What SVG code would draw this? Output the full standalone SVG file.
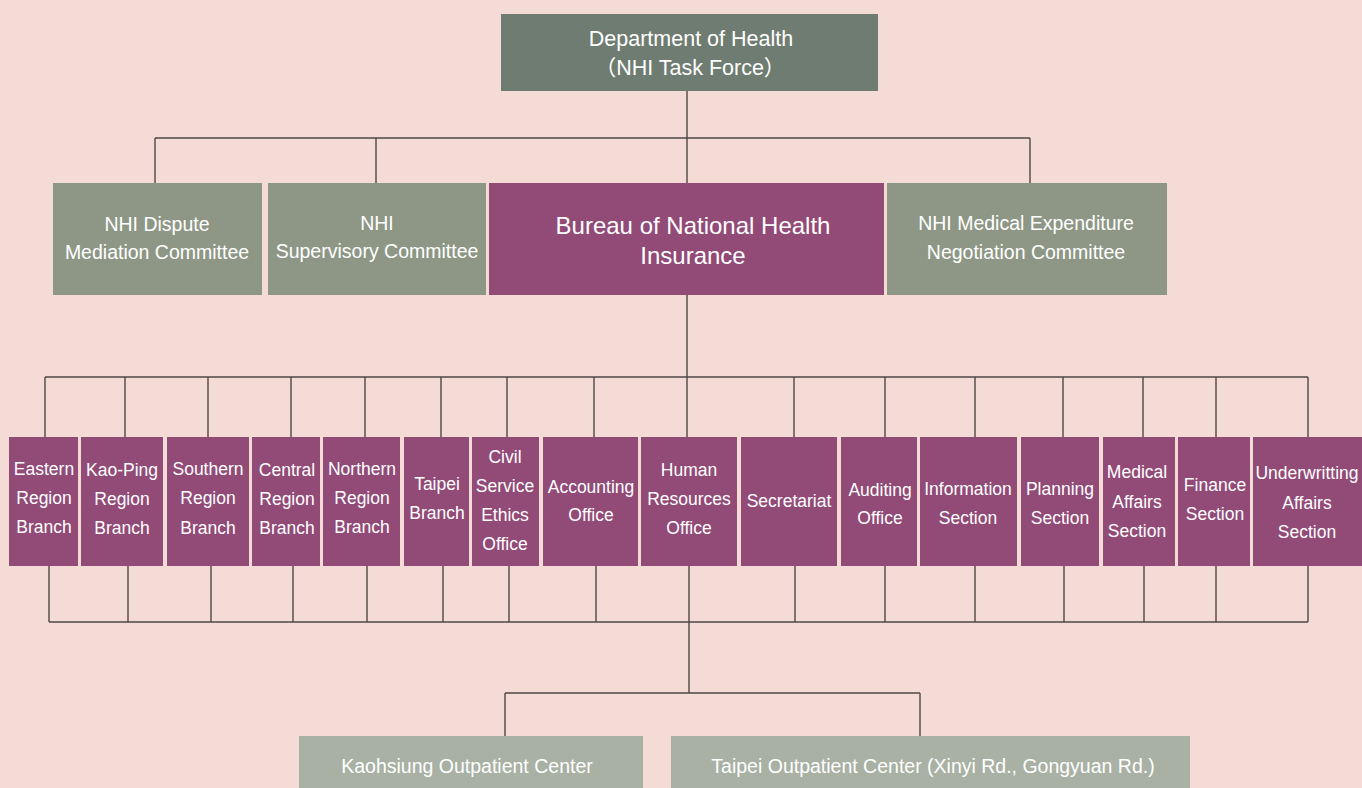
<svg xmlns="http://www.w3.org/2000/svg" width="1362" height="788" viewBox="0 0 1362 788">
<style>
text{font-family:"Liberation Sans",Arial,"Noto Sans CJK TC",sans-serif;fill:#ffffff;text-anchor:middle}
.top{fill:#6f7c71}
.com{fill:#8e9786}
.pur{fill:#924a77}
.out{fill:#a8b1a4}
.t1{font-size:21.5px}
.t2{font-size:19.5px}
.t3{font-size:24px}
.t4{font-size:17.5px}
.t5{font-size:19.5px}
#connectors path{fill:none;stroke:#4f4848;stroke-width:1.4}
</style>
<rect width="1362" height="788" fill="#f5dbd6"/>
<g id="connectors">
<path d="M687 91V183M155 138H1030M155 138V183M376 138V183M1030 138V183"/>
<path d="M687 295V377M45 377H1308M45 377V437M125 377V437M208 377V437M291 377V437M365 377V437M441 377V437M507 377V437M594 377V437M687 377V437M794 377V437M885 377V437M975 377V437M1063 377V437M1143 377V437M1216 377V437M1308 377V437"/>
<path d="M49 566V622M128 566V622M211 566V622M293 566V622M367 566V622M443 566V622M509 566V622M596 566V622M689 566V622M795 566V622M885 566V622M975 566V622M1064 566V622M1144 566V622M1216 566V622M1308 566V622M49 622H1308"/>
<path d="M689 622V693M505 693H920M505 693V736M920 693V736"/>
</g>
<g id="dept"><rect class="top" x="501" y="14" width="377" height="77"/><text class="t1" x="691" y="46">Department of Health</text><text class="t1" x="690" y="75">（NHI Task Force）</text></g>
<g id="dispute"><rect class="com" x="53" y="183" width="209" height="112"/><text class="t2" x="157" y="231">NHI Dispute</text><text class="t2" x="157" y="259">Mediation Committee</text></g>
<g id="supervisory"><rect class="com" x="268" y="183" width="218" height="112"/><text class="t2" x="377" y="230">NHI</text><text class="t2" x="377" y="258">Supervisory Committee</text></g>
<g id="bureau"><rect class="pur" x="489" y="183" width="395" height="112"/><text class="t3" x="693" y="234">Bureau of National Health</text><text class="t3" x="693" y="264">Insurance</text></g>
<g id="negotiation"><rect class="com" x="887" y="183" width="280" height="112"/><text class="t2" x="1026" y="230">NHI Medical Expenditure</text><text class="t2" x="1026" y="259">Negotiation Committee</text></g>
<g id="eastern"><rect class="pur" x="9" y="437" width="69" height="129"/><text class="t4" x="44" y="475">Eastern</text><text class="t4" x="44" y="504">Region</text><text class="t4" x="44" y="533">Branch</text></g>
<g id="kaoping"><rect class="pur" x="81" y="437" width="82" height="129"/><text class="t4" x="122" y="476">Kao-Ping</text><text class="t4" x="122" y="505">Region</text><text class="t4" x="122" y="534">Branch</text></g>
<g id="southern"><rect class="pur" x="167" y="437" width="82" height="129"/><text class="t4" x="208" y="475">Southern</text><text class="t4" x="208" y="504">Region</text><text class="t4" x="208" y="534">Branch</text></g>
<g id="central"><rect class="pur" x="252" y="437" width="68" height="129"/><text class="t4" x="287" y="476">Central</text><text class="t4" x="287" y="505">Region</text><text class="t4" x="287" y="534">Branch</text></g>
<g id="northern"><rect class="pur" x="323" y="437" width="77" height="129"/><text class="t4" x="362" y="475">Northern</text><text class="t4" x="362" y="504">Region</text><text class="t4" x="362" y="533">Branch</text></g>
<g id="taipei"><rect class="pur" x="404" y="437" width="65" height="129"/><text class="t4" x="437" y="490">Taipei</text><text class="t4" x="437" y="519">Branch</text></g>
<g id="civil"><rect class="pur" x="472" y="437" width="67" height="129"/><text class="t4" x="505" y="463">Civil</text><text class="t4" x="505" y="492">Service</text><text class="t4" x="505" y="521">Ethics</text><text class="t4" x="505" y="550">Office</text></g>
<g id="accounting"><rect class="pur" x="543" y="437" width="95" height="129"/><text class="t4" x="591" y="493">Accounting</text><text class="t4" x="591" y="521">Office</text></g>
<g id="hr"><rect class="pur" x="641" y="437" width="96" height="129"/><text class="t4" x="689" y="476">Human</text><text class="t4" x="689" y="505">Resources</text><text class="t4" x="689" y="534">Office</text></g>
<g id="secretariat"><rect class="pur" x="741" y="437" width="96" height="129"/><text class="t4" x="789" y="507">Secretariat</text></g>
<g id="auditing"><rect class="pur" x="841" y="437" width="76" height="129"/><text class="t4" x="880" y="496">Auditing</text><text class="t4" x="880" y="524">Office</text></g>
<g id="information"><rect class="pur" x="920" y="437" width="97" height="129"/><text class="t4" x="968" y="495">Information</text><text class="t4" x="968" y="524">Section</text></g>
<g id="planning"><rect class="pur" x="1021" y="437" width="78" height="129"/><text class="t4" x="1060" y="495">Planning</text><text class="t4" x="1060" y="524">Section</text></g>
<g id="medical"><rect class="pur" x="1103" y="437" width="72" height="129"/><text class="t4" x="1137" y="478">Medical</text><text class="t4" x="1137" y="508">Affairs</text><text class="t4" x="1137" y="537">Section</text></g>
<g id="finance"><rect class="pur" x="1178" y="437" width="72" height="129"/><text class="t4" x="1215" y="491">Finance</text><text class="t4" x="1215" y="520">Section</text></g>
<g id="underwriting"><rect class="pur" x="1253" y="437" width="109" height="129"/><text class="t4" x="1307" y="479">Underwritting</text><text class="t4" x="1307" y="509">Affairs</text><text class="t4" x="1307" y="538">Section</text></g>
<g id="kaohsiung"><rect class="out" x="299" y="736" width="344" height="52"/><text class="t5" x="467" y="773">Kaohsiung Outpatient Center</text></g>
<g id="taipeioutpatient"><rect class="out" x="671" y="736" width="519" height="52"/><text class="t5" x="933" y="773">Taipei Outpatient Center (Xinyi Rd., Gongyuan Rd.)</text></g>
</svg>
